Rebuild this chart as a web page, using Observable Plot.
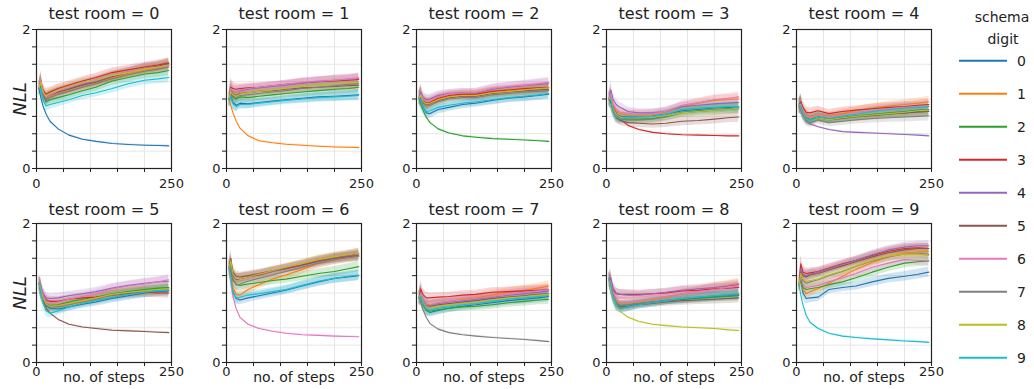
<!DOCTYPE html>
<html><head><meta charset="utf-8">
<script src="https://cdn.jsdelivr.net/npm/d3@7"></script>
<script src="https://cdn.jsdelivr.net/npm/@observablehq/plot@0.6"></script>
<style>
body{margin:0;background:#fff;}
#chart{position:relative;width:1034px;height:389px;font-family:"DejaVu Sans",sans-serif;overflow:hidden}
#chart svg{position:absolute;overflow:visible}
</style></head><body><div id="chart"></div>
<script>
// x positions (training steps) at which the curves were read
const steps = [5, 8, 12, 18, 25, 40, 60, 85, 110, 140, 170, 200, 225, 245];
const digits = [0, 1, 2, 3, 4, 5, 6, 7, 8, 9];
const digitColors = ["#1f77b4", "#ff7f0e", "#2ca02c", "#d62728", "#9467bd", "#8c564b", "#e377c2", "#7f7f7f", "#bcbd22", "#17becf"];
const xTicks = [0, 50, 100, 150, 200, 250];
const xTickLabels = [0, 250];
const yTicks = [0, 0.25, 0.5, 0.75, 1, 1.25, 1.5, 1.75, 2];
const yTickLabels = [0, 2];
// half-width of the shaded band for each step (non-matching digits), and for the matching digit
const bandHalfWidth = [0.10, 0.13, 0.09, 0.08, 0.07, 0.065, 0.06, 0.06, 0.06, 0.065, 0.065, 0.07, 0.07, 0.075];
const matchedBandHalfWidth = 0.012;

// NLL per test room: one row per schema digit 0..9
const nll_room0 = [
  [1.15, 1.02, 0.90, 0.78, 0.68, 0.57, 0.48, 0.42, 0.39, 0.36, 0.345, 0.335, 0.33, 0.325],
  [1.15, 1.22, 1.08, 1.00, 1.04, 1.08, 1.12, 1.17, 1.22, 1.30, 1.36, 1.42, 1.45, 1.48],
  [1.15, 1.20, 1.05, 0.96, 0.99, 1.02, 1.06, 1.12, 1.17, 1.26, 1.31, 1.36, 1.38, 1.41],
  [1.16, 1.27, 1.12, 1.07, 1.10, 1.15, 1.20, 1.26, 1.31, 1.38, 1.42, 1.46, 1.49, 1.52],
  [1.16, 1.24, 1.10, 1.03, 1.06, 1.10, 1.15, 1.21, 1.26, 1.33, 1.39, 1.44, 1.47, 1.50],
  [1.15, 1.23, 1.08, 1.01, 1.05, 1.10, 1.14, 1.20, 1.24, 1.32, 1.38, 1.44, 1.47, 1.51],
  [1.17, 1.28, 1.10, 1.02, 1.05, 1.12, 1.17, 1.23, 1.27, 1.34, 1.39, 1.44, 1.46, 1.48],
  [1.15, 1.21, 1.06, 0.99, 1.02, 1.07, 1.11, 1.17, 1.22, 1.29, 1.35, 1.40, 1.43, 1.46],
  [1.16, 1.25, 1.10, 1.04, 1.08, 1.13, 1.18, 1.24, 1.27, 1.34, 1.38, 1.43, 1.46, 1.49],
  [1.14, 1.15, 0.98, 0.90, 0.92, 0.95, 0.99, 1.05, 1.09, 1.15, 1.22, 1.27, 1.29, 1.31]
];
const nll_room1 = [
  [0.99, 1.03, 0.95, 0.91, 0.94, 0.93, 0.95, 0.97, 0.99, 1.01, 1.03, 1.04, 1.05, 1.06],
  [0.99, 0.90, 0.80, 0.68, 0.58, 0.47, 0.40, 0.37, 0.35, 0.335, 0.32, 0.31, 0.305, 0.30],
  [0.99, 1.08, 1.02, 1.00, 1.03, 1.02, 1.04, 1.06, 1.08, 1.10, 1.12, 1.14, 1.15, 1.17],
  [1.00, 1.17, 1.15, 1.14, 1.15, 1.16, 1.17, 1.19, 1.21, 1.23, 1.25, 1.26, 1.27, 1.28],
  [1.00, 1.13, 1.11, 1.10, 1.12, 1.14, 1.16, 1.18, 1.20, 1.23, 1.25, 1.27, 1.28, 1.30],
  [0.99, 1.12, 1.07, 1.05, 1.08, 1.09, 1.11, 1.12, 1.14, 1.16, 1.17, 1.18, 1.19, 1.20],
  [1.00, 1.15, 1.12, 1.10, 1.13, 1.15, 1.17, 1.19, 1.21, 1.24, 1.26, 1.27, 1.29, 1.30],
  [0.99, 1.10, 1.04, 1.02, 1.05, 1.06, 1.08, 1.10, 1.12, 1.15, 1.17, 1.19, 1.21, 1.22],
  [0.99, 1.11, 1.06, 1.04, 1.07, 1.09, 1.11, 1.13, 1.15, 1.18, 1.20, 1.22, 1.23, 1.24],
  [0.99, 1.02, 0.93, 0.89, 0.92, 0.92, 0.94, 0.96, 0.98, 1.00, 1.02, 1.03, 1.04, 1.05]
];
const nll_room2 = [
  [1.01, 1.00, 0.88, 0.80, 0.79, 0.85, 0.88, 0.92, 0.94, 0.98, 1.01, 1.03, 1.05, 1.07],
  [1.02, 1.05, 0.96, 0.93, 0.94, 1.00, 1.04, 1.06, 1.06, 1.10, 1.12, 1.14, 1.15, 1.16],
  [1.00, 0.92, 0.84, 0.74, 0.66, 0.57, 0.51, 0.47, 0.45, 0.43, 0.42, 0.41, 0.40, 0.39],
  [1.02, 1.06, 0.98, 0.94, 0.95, 1.01, 1.05, 1.07, 1.07, 1.11, 1.13, 1.15, 1.16, 1.17],
  [1.03, 1.10, 1.02, 0.99, 1.00, 1.05, 1.08, 1.09, 1.09, 1.14, 1.17, 1.19, 1.21, 1.22],
  [1.02, 1.04, 0.96, 0.92, 0.93, 0.98, 1.02, 1.04, 1.04, 1.08, 1.10, 1.12, 1.13, 1.14],
  [1.02, 1.07, 1.00, 0.97, 0.98, 1.03, 1.07, 1.09, 1.09, 1.15, 1.18, 1.20, 1.22, 1.24],
  [1.01, 1.02, 0.94, 0.90, 0.91, 0.96, 1.00, 1.02, 1.02, 1.06, 1.08, 1.10, 1.11, 1.12],
  [1.02, 1.05, 0.97, 0.93, 0.94, 0.99, 1.03, 1.05, 1.05, 1.09, 1.11, 1.13, 1.15, 1.16],
  [1.01, 0.98, 0.88, 0.82, 0.83, 0.88, 0.91, 0.94, 0.96, 0.99, 1.02, 1.04, 1.06, 1.08]
];
const nll_room3 = [
  [1.00, 1.02, 0.88, 0.79, 0.75, 0.74, 0.74, 0.75, 0.78, 0.83, 0.85, 0.87, 0.88, 0.89],
  [1.01, 1.06, 0.92, 0.83, 0.79, 0.77, 0.77, 0.78, 0.81, 0.89, 0.94, 0.98, 0.99, 1.00],
  [0.99, 1.00, 0.86, 0.76, 0.72, 0.71, 0.71, 0.72, 0.75, 0.81, 0.83, 0.85, 0.86, 0.87],
  [1.00, 0.95, 0.88, 0.79, 0.71, 0.62, 0.56, 0.52, 0.50, 0.485, 0.48, 0.475, 0.47, 0.47],
  [1.02, 1.13, 1.00, 0.92, 0.88, 0.82, 0.80, 0.80, 0.82, 0.89, 0.91, 0.93, 0.94, 0.95],
  [0.99, 0.98, 0.83, 0.73, 0.69, 0.66, 0.65, 0.64, 0.65, 0.68, 0.69, 0.71, 0.73, 0.74],
  [1.01, 1.08, 0.94, 0.85, 0.81, 0.79, 0.78, 0.79, 0.82, 0.91, 0.95, 0.99, 1.01, 1.03],
  [0.99, 0.99, 0.85, 0.75, 0.71, 0.70, 0.70, 0.71, 0.74, 0.80, 0.82, 0.84, 0.85, 0.86],
  [1.00, 1.01, 0.87, 0.78, 0.74, 0.73, 0.73, 0.74, 0.76, 0.80, 0.82, 0.84, 0.85, 0.87],
  [0.99, 1.00, 0.84, 0.74, 0.72, 0.73, 0.74, 0.75, 0.78, 0.85, 0.87, 0.88, 0.89, 0.89]
];
const nll_room4 = [
  [0.90, 0.92, 0.80, 0.73, 0.70, 0.74, 0.71, 0.73, 0.75, 0.77, 0.79, 0.80, 0.82, 0.83],
  [0.91, 0.94, 0.84, 0.77, 0.74, 0.78, 0.75, 0.79, 0.83, 0.87, 0.90, 0.92, 0.94, 0.96],
  [0.90, 0.92, 0.81, 0.73, 0.70, 0.74, 0.71, 0.74, 0.76, 0.78, 0.80, 0.82, 0.84, 0.85],
  [0.92, 0.96, 0.88, 0.81, 0.80, 0.83, 0.79, 0.82, 0.84, 0.86, 0.88, 0.89, 0.91, 0.92],
  [0.88, 0.84, 0.77, 0.69, 0.64, 0.60, 0.56, 0.53, 0.52, 0.51, 0.50, 0.49, 0.48, 0.47],
  [0.90, 0.91, 0.80, 0.72, 0.69, 0.73, 0.70, 0.72, 0.74, 0.76, 0.78, 0.80, 0.81, 0.82],
  [0.91, 0.93, 0.83, 0.76, 0.73, 0.77, 0.74, 0.77, 0.80, 0.83, 0.86, 0.88, 0.89, 0.90],
  [0.89, 0.90, 0.78, 0.69, 0.66, 0.70, 0.66, 0.68, 0.70, 0.72, 0.73, 0.74, 0.75, 0.76],
  [0.90, 0.91, 0.80, 0.72, 0.69, 0.73, 0.70, 0.73, 0.75, 0.77, 0.79, 0.81, 0.83, 0.84],
  [0.90, 0.91, 0.80, 0.72, 0.69, 0.74, 0.72, 0.75, 0.78, 0.82, 0.85, 0.87, 0.88, 0.89]
];
const nll_room5 = [
  [1.13, 1.05, 0.92, 0.82, 0.78, 0.77, 0.80, 0.84, 0.87, 0.92, 0.96, 1.00, 1.02, 1.03],
  [1.14, 1.06, 0.94, 0.84, 0.81, 0.81, 0.84, 0.88, 0.92, 0.98, 1.01, 1.03, 1.04, 1.06],
  [1.13, 1.05, 0.93, 0.84, 0.82, 0.83, 0.87, 0.91, 0.94, 0.99, 1.02, 1.05, 1.07, 1.08],
  [1.14, 1.08, 0.98, 0.90, 0.88, 0.88, 0.91, 0.93, 0.94, 0.97, 0.99, 1.01, 1.00, 1.00],
  [1.15, 1.10, 1.00, 0.93, 0.92, 0.93, 0.96, 0.99, 1.02, 1.07, 1.11, 1.14, 1.16, 1.17],
  [1.13, 1.02, 0.90, 0.78, 0.71, 0.62, 0.55, 0.51, 0.49, 0.465, 0.455, 0.445, 0.435, 0.43],
  [1.14, 1.08, 0.97, 0.88, 0.86, 0.87, 0.91, 0.95, 0.99, 1.06, 1.10, 1.13, 1.16, 1.19],
  [1.13, 1.05, 0.93, 0.83, 0.80, 0.80, 0.83, 0.87, 0.91, 0.97, 1.00, 1.03, 1.04, 1.05],
  [1.13, 1.05, 0.93, 0.84, 0.81, 0.82, 0.85, 0.89, 0.93, 0.98, 1.01, 1.03, 1.05, 1.06],
  [1.12, 1.02, 0.86, 0.74, 0.71, 0.74, 0.80, 0.85, 0.89, 0.94, 0.98, 1.01, 1.03, 1.04]
];
const nll_room6 = [
  [1.36, 1.25, 1.02, 0.92, 0.90, 0.93, 0.96, 1.00, 1.04, 1.10, 1.16, 1.21, 1.23, 1.25],
  [1.36, 1.30, 1.08, 0.98, 0.97, 1.05, 1.12, 1.20, 1.26, 1.34, 1.42, 1.48, 1.51, 1.53],
  [1.36, 1.32, 1.18, 1.12, 1.11, 1.13, 1.15, 1.18, 1.20, 1.24, 1.28, 1.31, 1.35, 1.38],
  [1.37, 1.45, 1.26, 1.20, 1.21, 1.23, 1.26, 1.31, 1.36, 1.41, 1.47, 1.51, 1.54, 1.57],
  [1.37, 1.42, 1.25, 1.20, 1.21, 1.24, 1.27, 1.31, 1.35, 1.40, 1.45, 1.50, 1.53, 1.55],
  [1.38, 1.50, 1.30, 1.24, 1.23, 1.25, 1.28, 1.32, 1.35, 1.40, 1.46, 1.50, 1.52, 1.54],
  [1.35, 1.15, 0.95, 0.77, 0.65, 0.55, 0.49, 0.45, 0.42, 0.40, 0.39, 0.38, 0.375, 0.37],
  [1.37, 1.40, 1.20, 1.12, 1.13, 1.17, 1.21, 1.26, 1.31, 1.37, 1.43, 1.48, 1.51, 1.53],
  [1.37, 1.46, 1.27, 1.21, 1.21, 1.23, 1.27, 1.32, 1.37, 1.42, 1.48, 1.52, 1.55, 1.57],
  [1.36, 1.22, 1.00, 0.93, 0.94, 0.97, 0.99, 1.02, 1.05, 1.11, 1.17, 1.21, 1.24, 1.26]
];
const nll_room7 = [
  [0.93, 0.96, 0.84, 0.75, 0.72, 0.75, 0.78, 0.81, 0.83, 0.86, 0.89, 0.91, 0.93, 0.95],
  [0.93, 0.99, 0.88, 0.82, 0.82, 0.86, 0.88, 0.91, 0.93, 0.97, 1.01, 1.04, 1.07, 1.10],
  [0.92, 0.94, 0.83, 0.76, 0.74, 0.76, 0.78, 0.80, 0.81, 0.83, 0.86, 0.88, 0.90, 0.91],
  [0.94, 1.06, 0.98, 0.93, 0.93, 0.94, 0.95, 0.97, 0.98, 1.01, 1.02, 1.03, 1.04, 1.05],
  [0.93, 1.00, 0.90, 0.84, 0.83, 0.85, 0.87, 0.89, 0.91, 0.94, 0.97, 0.99, 1.01, 1.03],
  [0.93, 0.99, 0.88, 0.82, 0.81, 0.83, 0.85, 0.87, 0.89, 0.92, 0.94, 0.96, 0.98, 0.99],
  [0.93, 1.00, 0.89, 0.83, 0.83, 0.86, 0.88, 0.90, 0.92, 0.95, 0.98, 1.01, 1.03, 1.05],
  [0.94, 0.86, 0.76, 0.65, 0.56, 0.48, 0.43, 0.40, 0.38, 0.36, 0.345, 0.33, 0.315, 0.30],
  [0.93, 0.97, 0.86, 0.79, 0.78, 0.81, 0.83, 0.85, 0.87, 0.90, 0.93, 0.95, 0.97, 0.98],
  [0.93, 0.96, 0.85, 0.77, 0.75, 0.78, 0.80, 0.83, 0.85, 0.88, 0.91, 0.93, 0.95, 0.96]
];
const nll_room8 = [
  [1.19, 1.12, 0.95, 0.83, 0.78, 0.80, 0.84, 0.87, 0.89, 0.91, 0.93, 0.95, 0.96, 0.97],
  [1.20, 1.15, 1.00, 0.90, 0.86, 0.86, 0.88, 0.91, 0.94, 0.99, 1.03, 1.08, 1.11, 1.14],
  [1.19, 1.12, 0.97, 0.86, 0.82, 0.83, 0.85, 0.87, 0.89, 0.91, 0.92, 0.94, 0.95, 0.96],
  [1.21, 1.18, 1.05, 0.99, 0.98, 0.98, 0.98, 0.99, 1.00, 1.03, 1.04, 1.06, 1.07, 1.08],
  [1.22, 1.22, 1.08, 1.00, 0.98, 0.97, 0.97, 0.99, 1.01, 1.04, 1.06, 1.08, 1.10, 1.12],
  [1.19, 1.12, 0.96, 0.84, 0.80, 0.81, 0.83, 0.85, 0.87, 0.89, 0.90, 0.91, 0.92, 0.93],
  [1.20, 1.16, 1.01, 0.91, 0.87, 0.87, 0.89, 0.92, 0.95, 0.99, 1.02, 1.05, 1.08, 1.10],
  [1.19, 1.13, 0.97, 0.86, 0.82, 0.83, 0.85, 0.87, 0.89, 0.92, 0.94, 0.96, 0.97, 0.98],
  [1.18, 1.05, 0.94, 0.83, 0.74, 0.65, 0.59, 0.55, 0.53, 0.51, 0.50, 0.49, 0.47, 0.46],
  [1.19, 1.11, 0.94, 0.82, 0.78, 0.80, 0.83, 0.86, 0.89, 0.92, 0.94, 0.96, 0.98, 0.99]
];
const nll_room9 = [
  [1.11, 1.20, 1.00, 0.92, 0.93, 0.94, 1.05, 1.08, 1.10, 1.16, 1.21, 1.24, 1.27, 1.30],
  [1.12, 1.24, 1.05, 0.99, 1.02, 1.06, 1.14, 1.24, 1.34, 1.44, 1.52, 1.58, 1.59, 1.60],
  [1.11, 1.22, 1.08, 1.05, 1.06, 1.08, 1.12, 1.16, 1.22, 1.30, 1.37, 1.43, 1.45, 1.46],
  [1.13, 1.42, 1.30, 1.28, 1.29, 1.31, 1.36, 1.42, 1.47, 1.54, 1.60, 1.64, 1.65, 1.64],
  [1.12, 1.34, 1.27, 1.25, 1.27, 1.30, 1.35, 1.41, 1.47, 1.55, 1.62, 1.66, 1.68, 1.68],
  [1.12, 1.30, 1.25, 1.23, 1.26, 1.28, 1.33, 1.39, 1.45, 1.52, 1.58, 1.62, 1.64, 1.64],
  [1.12, 1.26, 1.12, 1.08, 1.09, 1.11, 1.16, 1.22, 1.28, 1.37, 1.43, 1.48, 1.47, 1.47],
  [1.12, 1.28, 1.18, 1.14, 1.16, 1.19, 1.25, 1.31, 1.38, 1.46, 1.52, 1.56, 1.57, 1.56],
  [1.12, 1.28, 1.20, 1.16, 1.18, 1.20, 1.26, 1.32, 1.39, 1.47, 1.53, 1.56, 1.56, 1.54],
  [1.11, 0.97, 0.83, 0.68, 0.58, 0.49, 0.42, 0.38, 0.36, 0.34, 0.325, 0.31, 0.30, 0.29]
];
const rooms = [nll_room0, nll_room1, nll_room2, nll_room3, nll_room4, nll_room5, nll_room6, nll_room7, nll_room8, nll_room9];

const chart = document.getElementById("chart");
const FONT = "DejaVu Sans";

rooms.forEach((series, room) => {
  const col = room % 5, row = Math.floor(room / 5);
  const rows = [];
  series.forEach((vals, d) => vals.forEach((v, i) => {
    const hw = d === room ? matchedBandHalfWidth : bandHalfWidth[i];
    rows.push({step: steps[i], nll: v, lo: v - hw, hi: v + hw, digit: d});
  }));
  const marks = [
    Plot.gridX(xTicks, {stroke: "#e6e6e6", strokeOpacity: 1, strokeWidth: 1}),
    Plot.gridY(yTicks, {stroke: "#e6e6e6", strokeOpacity: 1, strokeWidth: 1}),
    Plot.areaY(rows, {x: "step", y1: "lo", y2: "hi", fill: "digit", z: "digit", fillOpacity: 0.2}),
    Plot.lineY(rows, {x: "step", y: "nll", stroke: "digit", z: "digit", strokeWidth: 1.1}),
    Plot.axisX(xTicks, {tickFormat: d => xTickLabels.includes(d) ? String(d) : "", tickSize: 4, tickPadding: row === 0 ? 6 : 0, fontSize: 13, label: null}),
    Plot.axisY(yTicks, {tickFormat: d => yTickLabels.includes(d) ? String(d) : "", tickSize: 4, tickPadding: 2, fontSize: 13, label: null}),
    Plot.frame({stroke: "#222", strokeWidth: 1.2}),
    Plot.text([`test room = ${room}`], {frameAnchor: "top", lineAnchor: "middle", dy: row === 0 ? -16 : -14, fontSize: 16, fill: "#222"})
  ];
  if (col === 0) {
    marks.push(Plot.text(["NLL"], {frameAnchor: "left", dx: -16, rotate: -90, textAnchor: "middle", lineAnchor: "middle", fontSize: 18, fontStyle: "italic", fill: "#222"}));
  }
  if (row === 1) {
    marks.push(Plot.text(["no. of steps"], {frameAnchor: "bottom", lineAnchor: "middle", dy: 15, fontSize: 14, fill: "#222"}));
  }
  const svg = Plot.plot({
    width: 190,
    height: row === 0 ? 194 : 195,
    marginLeft: 36, marginTop: 29, marginRight: 19, marginBottom: row === 0 ? 26 : 27,
    x: {domain: [0, 250]},
    y: {domain: [0, 2]},
    color: {type: "ordinal", domain: digits, range: digitColors},
    style: {fontFamily: FONT, fontSize: "13px", background: "transparent", color: "#222"},
    marks
  });
  svg.style.left = (col * 190) + "px";
  svg.style.top = (row * 194) + "px";
  chart.appendChild(svg);
});

// legend
const legend = d3.create("svg").attr("width", 134).attr("height", 389)
  .style("left", "900px").style("top", "0px")
  .style("font-family", FONT);
legend.append("text").attr("x", 102).attr("y", 17).attr("text-anchor", "middle").attr("dominant-baseline", "central")
  .attr("font-size", 14).attr("fill", "#222").text("schema");
legend.append("text").attr("x", 103).attr("y", 39).attr("text-anchor", "middle").attr("dominant-baseline", "central")
  .attr("font-size", 14).attr("fill", "#222").text("digit");
const items = legend.selectAll("g.item").data(digits).join("g").attr("class", "item")
  .attr("transform", (d, i) => `translate(0,${60.7 + i * 33})`);
items.append("line").attr("x1", 59).attr("x2", 107).attr("y1", 0).attr("y2", 0)
  .attr("stroke", (d, i) => digitColors[i]).attr("stroke-width", 2);
items.append("text").attr("x", 117).attr("y", 0).attr("dominant-baseline", "central")
  .attr("font-size", 14).attr("fill", "#222").text(d => d);
chart.appendChild(legend.node());
</script></body></html>
